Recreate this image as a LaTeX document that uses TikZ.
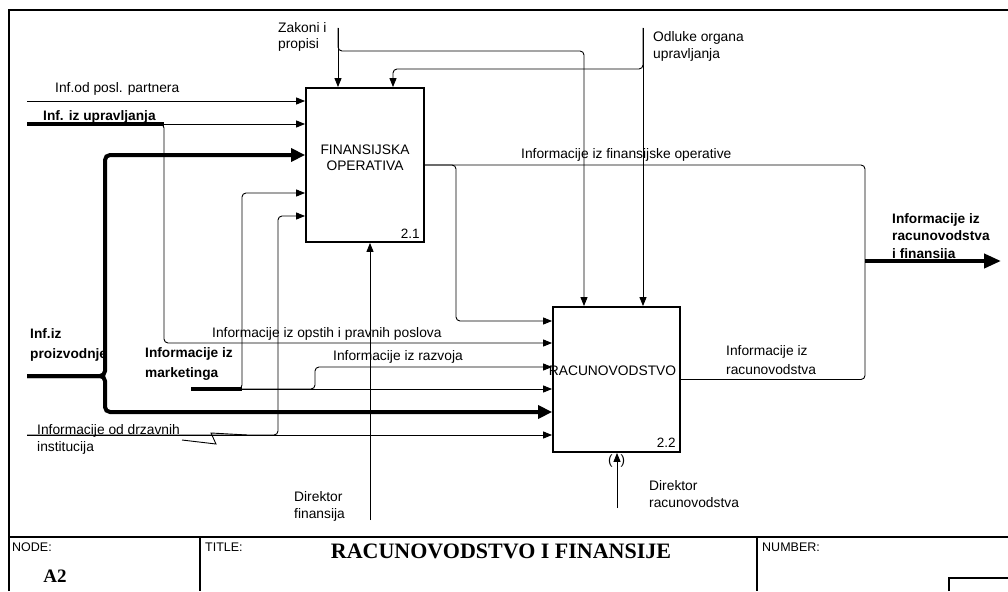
\documentclass[tikz,border=0pt]{standalone}
\usepackage{fontspec}
\setmainfont{Liberation Sans}
\newfontfamily\idefserif{Liberation Serif}
\usetikzlibrary{arrows.meta,positioning}

\begin{document}
\begin{tikzpicture}[
    x=1pt,y=-1pt,
    activity/.style={rectangle,draw,line width=1.8pt,minimum width=118pt,minimum height=154pt,inner sep=0pt},
    boxtext/.style={font=\fontsize{13.8}{16}\selectfont,align=center,inner sep=0pt},
    boxnum/.style={font=\fontsize{13.5}{15}\selectfont,inner sep=0pt,anchor=base east},
    lbl/.style={anchor=north west,inner sep=0pt,align=left,font=\fontsize{13.8}{17}\selectfont},
    bold lbl/.style={lbl,font=\fontsize{13.7}{20}\selectfont\bfseries},
    frametext/.style={anchor=north west,inner sep=0pt,font=\fontsize{12.5}{14}\selectfont},
    pipe/.style={line width=0.9pt,rounded corners=4pt},
    arrow/.style={pipe,-{Triangle[length=9pt,width=7pt]}},
    thick pipe/.style={line width=4pt,rounded corners=5pt},
    thick arrow/.style={thick pipe,-{Triangle[length=14pt,width=13pt]}},
    frame/.style={line width=1.3pt}
]
\useasboundingbox (0,0) rectangle (1008,591);

% Activities
\node[activity] (fin) at (365,165) {};
\node[activity,minimum width=127pt,minimum height=145pt] (rac) at (616.5,379.5) {};
\node[boxtext] at ([yshift=7pt]fin.center) {FINANSIJSKA\\OPERATIVA};
\node[boxtext] at ([xshift=-4pt,yshift=8.5pt]rac.center) {RACUNOVODSTVO};
\node[boxnum] at ([xshift=-5pt,yshift=4pt]fin.south east) {2.1};
\node[boxnum] at ([xshift=-5pt,yshift=5pt]rac.south east) {2.2};

% Free ends and branch points
\coordinate (partneri) at (27,101);
\coordinate (upravljanje) at (27,124);
\coordinate (proizvodnja) at (27,376);
\coordinate (marketing) at (191,389);
\coordinate (drzava) at (27,435);
\coordinate (zakoni) at (338,28);
\coordinate (odluke) at (643,28);
\coordinate (dirfin) at (370,520);
\coordinate (dirrac) at (617,508);
\coordinate (izlaz) at (1001,261);
\coordinate (uprsplit) at (164,124);
\coordinate (prosplit) at (105,376);
\coordinate (marsplit) at (242,389);
\coordinate (razsplit) at (315,389);
\coordinate (drzsplit) at (278,435);
\coordinate (zakbend) at (584,51);
\coordinate (odlbend) at (393,69);
\coordinate (finbend) at (456,321);
\coordinate (outjoin) at (865,261);

% Inputs of 2.1
\draw[arrow] (partneri) -- (partneri -| fin.west);
\draw[arrow] (uprsplit) -- (uprsplit -| fin.west);
\draw[arrow] (marketing) -- (marsplit) |- ([yshift=-28pt]fin.west);
\draw[arrow] (drzava) -- (drzsplit) |- ([yshift=-51pt]fin.west);

% Inputs of 2.2
\draw[arrow] (upravljanje) -- (uprsplit) |- ([yshift=36.5pt]rac.west);
\draw[arrow] (marketing) -- (marketing -| rac.west);
\draw[arrow] (marsplit) -- (razsplit) |- ([yshift=12.5pt]rac.west);
\draw[arrow] (drzava) -- (drzava -| rac.west);
\draw[arrow] (fin.east) -| (finbend) -- (finbend -| rac.west);
\draw[pipe,rounded corners=0pt] (182,440) -- (216,444) -- (211,433) -- (247,435);

% Thick inputs on top
\draw[thick pipe] (upravljanje) -- (uprsplit);
\draw[thick pipe] (marketing) -- (marsplit);
\draw[thick arrow] (proizvodnja) -- (prosplit) |- ([yshift=10pt]fin.west);
\draw[thick arrow] (proizvodnja) -- (prosplit) |- ([yshift=-32.5pt]rac.west);

% Controls
\draw[arrow] (zakoni) -- (zakoni |- fin.north);
\draw[arrow] (zakoni) |- (zakbend) -- (zakbend |- rac.north);
\draw[arrow] (odluke) -- (odluke |- rac.north);
\draw[arrow] (odluke) |- (odlbend) -- (odlbend |- fin.north);

% Outputs
\draw[pipe] (fin.east) -| (outjoin);
\draw[pipe] (rac.east) -| (outjoin);
\draw[thick pipe,-{Triangle[length=17pt,width=14pt]}] (outjoin) -- (izlaz);

% Mechanisms
\draw[arrow] (dirfin) -- (dirfin |- fin.south);
\draw[arrow] (dirrac) -- (dirrac |- rac.south);
\node[font=\fontsize{13.5}{15}\selectfont,inner sep=0pt] at (616.5,461.5) {(\hspace{8pt})};

% Labels
\node[lbl,font=\fontsize{13.8}{16}\selectfont] at (278,22.5) {Zakoni i\\propisi};
\node[lbl] at (653,31.5) {Odluke organa\\upravljanja};
\node[lbl] at (55,82.5) {Inf.od posl. partnera};
\node[bold lbl] at (43,110) {Inf. iz upravljanja};
\node[bold lbl] at (30,328.5) {Inf.iz\\proizvodnje};
\node[bold lbl] at (145,347.5) {Informacije iz\\marketinga};
\node[lbl] at (37,424) {Informacije od drzavnih\\institucija};
\node[lbl] at (521,148) {Informacije iz finansijske operative};
\node[lbl] at (212,327.5) {Informacije iz opstih i pravnih poslova};
\node[lbl] at (333,350) {Informacije iz razvoja};
\node[lbl,font=\fontsize{13.8}{19}\selectfont] at (726,345.5) {Informacije iz\\racunovodstva};
\node[bold lbl,font=\fontsize{13.7}{17.5}\selectfont\bfseries] at (892,213) {Informacije iz\\racunovodstva\\i finansija};
\node[lbl] at (294,491.5) {Direktor\\finansija};
\node[lbl] at (649,480.5) {Direktor\\racunovodstva};

% Frame and title block
\draw[frame] (9,591) -- (9,10) -- (1008,10);
\draw[frame] (9,537) -- (1008,537);
\draw[frame] (200,537) -- (200,591);
\draw[frame] (757,537) -- (757,591);
\draw[frame] (949,591) -- (949,578) -- (1008,578);
\node[frametext] at (12,543) {NODE:};
\node[frametext] at (205,543) {TITLE:};
\node[frametext] at (762,543) {NUMBER:};
\node[font=\idefserif\bfseries\fontsize{19}{22}\selectfont] at (55,576) {A2};
\node[font=\idefserif\bfseries\fontsize{22}{26}\selectfont] at (501,551) {RACUNOVODSTVO I FINANSIJE};

\end{tikzpicture}
\end{document}
